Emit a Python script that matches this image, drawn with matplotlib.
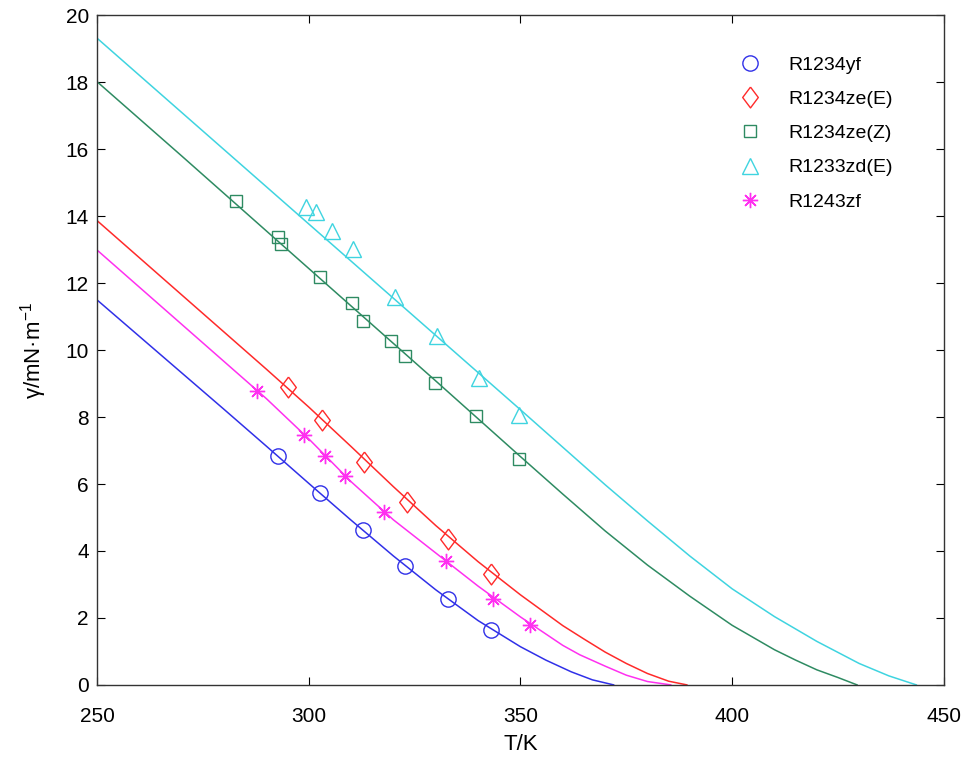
import matplotlib
matplotlib.use("Agg")
import matplotlib.pyplot as plt

plt.rcParams['font.family'] = ['Liberation Sans', 'DejaVu Sans']
plt.rcParams['mathtext.fontset'] = 'custom'
plt.rcParams['mathtext.rm'] = 'Liberation Sans'
plt.rcParams['mathtext.it'] = 'Liberation Sans:italic'

# measured surface tension, mN/m
yf_T = [292.7, 302.6, 312.8, 322.8, 332.9, 343.0]
yf_g = [6.83, 5.72, 4.62, 3.55, 2.56, 1.65]

zeE_T = [295.1, 303.1, 313.0, 323.1, 332.9, 343.0]
zeE_g = [8.89, 7.90, 6.67, 5.47, 4.37, 3.31]

zeZ_T = [282.7, 292.7, 293.4, 302.7, 310.1, 312.7, 319.5, 322.8, 329.8, 339.6, 349.6]
zeZ_g = [14.47, 13.39, 13.17, 12.19, 11.42, 10.88, 10.28, 9.83, 9.01, 8.03, 6.74]

zdE_T = [299.4, 301.6, 305.5, 310.4, 320.3, 330.2, 340.2, 349.7]
zdE_g = [14.29, 14.12, 13.57, 13.01, 11.60, 10.42, 9.16, 8.06]

zf_T = [287.8, 298.9, 303.9, 308.5, 317.7, 332.5, 343.5, 352.2]
zf_g = [8.79, 7.46, 6.83, 6.24, 5.17, 3.70, 2.58, 1.78]

# correlation curves
yf_line_T = [250, 260, 270, 280, 290, 300, 310, 320, 330, 340, 350, 356, 362, 367, 372]
yf_line_g = [11.5, 10.41, 9.32, 8.23, 7.13, 6.02, 4.92, 3.85, 2.84, 1.92, 1.14, 0.74,
             0.39, 0.15, 0.0]

zeE_line_T = [250, 260, 270, 280, 290, 300, 310, 320, 330, 340, 350, 360, 365, 370,
              375, 380, 385, 389.3]
zeE_line_g = [13.87, 12.76, 11.65, 10.54, 9.43, 8.3, 7.12, 5.92, 4.76, 3.68, 2.69, 1.77,
              1.37, 0.98, 0.64, 0.34, 0.11, 0.0]

zeZ_line_T = [250, 260, 270, 280, 290, 300, 310, 320, 330, 340, 350, 360, 370, 380,
              390, 400, 410, 415, 420, 425, 429.5]
zeZ_line_g = [18.02, 16.91, 15.8, 14.68, 13.56, 12.44, 11.32, 10.2, 9.08, 7.95, 6.82,
              5.7, 4.6, 3.58, 2.65, 1.78, 1.05, 0.74, 0.45, 0.22, 0.0]

zdE_line_T = [250, 260, 270, 280, 290, 300, 310, 320, 330, 340, 350, 360, 370, 380,
              390, 400, 410, 420, 430, 437, 443.5]
zdE_line_g = [19.32, 18.21, 17.1, 15.99, 14.88, 13.77, 12.66, 11.55, 10.44, 9.33, 8.22,
              7.1, 5.98, 4.9, 3.85, 2.87, 2.04, 1.3, 0.64, 0.27, 0.0]

zf_line_T = [250, 260, 270, 280, 290, 300, 310, 320, 330, 340, 350, 360, 364, 370,
             375, 380, 385.5]
zf_line_g = [12.99, 11.88, 10.77, 9.66, 8.55, 7.35, 6.07, 4.93, 3.94, 2.95, 2.03, 1.18,
             0.9, 0.56, 0.29, 0.1, 0.0]

names = ['R1234yf', 'R1234ze(E)', 'R1234ze(Z)', 'R1233zd(E)', 'R1243zf']
colors = ['#3030e8', '#ff2a2a', '#2e8b62', '#3fd4e0', '#ff30f0']

diamond = [(0, 1), (0.75, 0), (0, -1), (-0.75, 0), (0, 1)]
markers = ['o', diamond, 's', '^', (8, 2, 0)]
msizes = [11, 15, 8.5, 12, 11]

pts = [(yf_T, yf_g), (zeE_T, zeE_g), (zeZ_T, zeZ_g), (zdE_T, zdE_g), (zf_T, zf_g)]
lines = [(yf_line_T, yf_line_g), (zeE_line_T, zeE_line_g), (zeZ_line_T, zeZ_line_g),
         (zdE_line_T, zdE_line_g), (zf_line_T, zf_line_g)]

fig = plt.figure(figsize=(9.71, 7.73), dpi=100)
ax = fig.add_axes([0.1, 0.114, 0.872, 0.866])

for (lt, lg), c in zip(lines, colors):
    ax.plot(lt, lg, '-', color=c, lw=1.1)

for (pt, pg), c, m, ms, name in zip(pts, colors, markers, msizes, names):
    ax.plot(pt, pg, linestyle='none', marker=m, ms=ms, mfc='none', mec=c,
            mew=1.0, label=name)

ax.set_xlim(250, 450)
ax.set_ylim(0, 20)
ax.set_xticks(range(250, 451, 50))
ax.set_yticks(range(0, 21, 2))
ax.tick_params(direction='in', top=True, right=True, length=6, width=0.8,
               labelsize=15, pad=6)
ax.tick_params(axis='x', pad=16)
for s in ax.spines.values():
    s.set_linewidth(1.0)
    s.set_color('#333333')

ax.set_xlabel('T/K', fontsize=16, labelpad=6)
ax.set_ylabel(r'γ/mN·m$^{-1}$', fontsize=16, labelpad=12)

ax.legend(loc='upper right', bbox_to_anchor=(0.96, 0.965), frameon=False,
          fontsize=14, handletextpad=1.2, labelspacing=0.85, handlelength=1.5)

fig.savefig('out.png', dpi=100, facecolor='white')
